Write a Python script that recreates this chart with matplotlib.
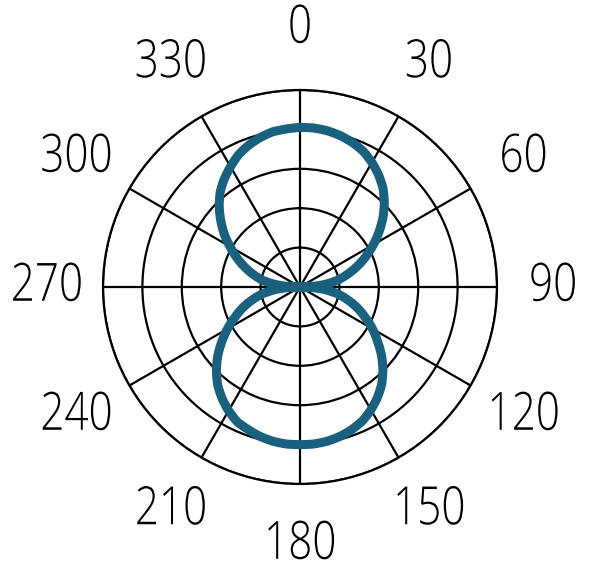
import numpy as np
import matplotlib
matplotlib.use("Agg")
import matplotlib.pyplot as plt
from matplotlib import font_manager
from matplotlib.patheffects import AbstractPathEffect
from matplotlib.transforms import Affine2D

# ---- data ----
angles_deg = [0, 5, 10, 15, 20, 25, 30, 35, 40, 45, 50, 55, 60, 65, 70, 75, 80, 85, 90,
              95, 100, 105, 110, 115, 120, 125, 130, 135, 140, 145, 150, 155, 160, 165, 170, 175, 180,
              185, 190, 195, 200, 205, 210, 215, 220, 225, 230, 235, 240, 245, 250, 255, 260, 265, 270,
              275, 280, 285, 290, 295, 300, 305, 310, 315, 320, 325, 330, 335, 340, 345, 350, 355, 360]
radius = [0.81, 0.81, 0.805, 0.795, 0.78, 0.76, 0.73, 0.695, 0.655, 0.605, 0.55, 0.49, 0.43, 0.37, 0.31, 0.25, 0.19, 0.11, 0.0,
          0.11, 0.19, 0.25, 0.31, 0.365, 0.425, 0.48, 0.54, 0.595, 0.645, 0.685, 0.72, 0.75, 0.77, 0.785, 0.795, 0.80, 0.80,
          0.80, 0.795, 0.785, 0.77, 0.755, 0.725, 0.69, 0.65, 0.60, 0.545, 0.485, 0.425, 0.365, 0.31, 0.25, 0.19, 0.11, 0.0,
          0.11, 0.19, 0.245, 0.30, 0.355, 0.41, 0.47, 0.525, 0.58, 0.63, 0.67, 0.705, 0.74, 0.765, 0.785, 0.80, 0.805, 0.81]
theta_ticks = [0, 30, 60, 90, 120, 150, 180, 210, 240, 270, 300, 330]
theta_labels = ["0", "30", "60", "90", "120", "150", "180", "210", "240", "270", "300", "330"]
r_ticks = [0.2, 0.4, 0.6, 0.8, 1.0]

# ---- font: prefer a light sans ----
fam = "DejaVu Sans"
weight = "normal"
avail = {}
for f in font_manager.fontManager.ttflist:
    w = f.weight if isinstance(f.weight, int) else 400
    avail.setdefault(f.name, set()).add(w)
for name in ["Open Sans", "Lato", "Roboto", "Noto Sans", "Inter"]:
    if name in avail and any(w <= 300 for w in avail[name]):
        fam = name
        weight = 300
        break


class Squeeze(AbstractPathEffect):
    """Narrow the text horizontally around its own centre."""
    def __init__(self, sx=0.78):
        super().__init__()
        self.sx = sx

    def draw_path(self, renderer, gc, tpath, affine, rgbFace=None):
        ext = tpath.get_extents(affine)
        cx = 0.5 * (ext.x0 + ext.x1)
        tr = affine + Affine2D().translate(-cx, 0).scale(self.sx, 1.0).translate(cx, 0)
        renderer.draw_path(gc, tpath, tr, rgbFace)


fig = plt.figure(figsize=(6.0, 5.85), dpi=100)
ax = fig.add_axes([103 / 600, (585 - 287 - 197) / 585, 394 / 600, 394 / 585], projection="polar")
ax.set_theta_zero_location("N")
ax.set_theta_direction(-1)
ax.set_ylim(0, 1.0)

th = np.deg2rad(angles_deg)
line, = ax.plot(th, radius, color="#19617f", lw=6.5, solid_joinstyle="round",
                solid_capstyle="round", zorder=3)
line.get_path()._interpolation_steps = 8  # draw each segment along the polar arc

ax.set_xticks(np.deg2rad(theta_ticks))
ax.set_xticklabels([])
ax.set_yticks(r_ticks)
ax.set_yticklabels([])
ax.grid(True, color="black", lw=1.6)
ax.spines["polar"].set_color("black")
ax.spines["polar"].set_linewidth(1.6)
ax.tick_params(length=0)

for a, lab in zip(theta_ticks, theta_labels):
    rr = 1.285 if a in (90, 270) else 1.31
    ax.text(np.deg2rad(a), rr, lab, ha="center", va="center", fontsize=38,
            family=[fam, "DejaVu Sans"], fontweight=weight, color="black", clip_on=False,
            path_effects=[Squeeze(0.8)])

fig.savefig("out.png", dpi=100)
